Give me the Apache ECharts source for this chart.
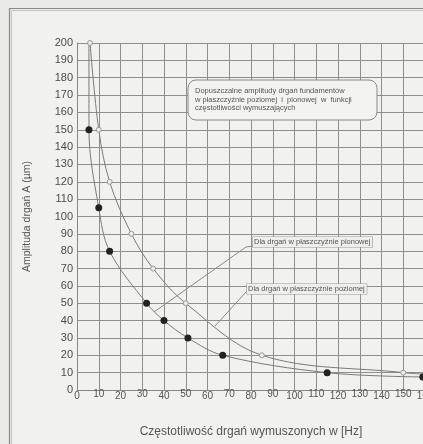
<!DOCTYPE html>
<html>
<head>
<meta charset="utf-8">
<script src="https://cdn.jsdelivr.net/npm/echarts@6.0.0/dist/echarts.min.js"></script>
<style>
  html, body { margin: 0; padding: 0; background: #eaeae8; }
  #chart { width: 423px; height: 444px; }
</style>
</head>
<body>
<div id="chart"></div>
<script>
// amplitudy dopuszczalne - drgania pionowe (kropki pełne)
const pionX = [5.5, 5.5, 10, 15, 32, 40, 51, 67, 115, 159];
const pionY = [200, 150, 105, 80, 50, 40, 30, 20, 10, 7.5];
// drgania poziome (kółka puste)
const pozX = [6, 10, 15, 25, 35, 50, 85, 150, 162];
const pozY = [200, 150, 120, 90, 70, 50, 20, 10, 9];

const xTitle = 'Częstotliwość drgań wymuszonych w [Hz]';
const yTitle = 'Amplituda drgań A (µm)';
const noteLines = [
  'Dopuszczalne amplitudy drgań fundamentów',
  'w płaszczyźnie poziomej  i  pionowej  w  funkcji',
  'częstotliwości wymuszających'
];
const labelPion = 'Dla drgań w płaszczyźnie pionowej';
const labelPoz = 'Dla drgań w płaszczyźnie poziomej';

const font = 'Liberation Sans';

const pionData = pionX.map((x, i) =>
  i === 0 ? { value: [x, pionY[i]], symbol: 'none' } : [x, pionY[i]]);
const pozData = pozX.map((x, i) =>
  i === pozX.length - 1 ? { value: [x, pozY[i]], symbol: 'none' } : [x, pozY[i]]);

const chart = echarts.init(document.getElementById('chart'));

const option = {
  backgroundColor: '#eaeae8',
  animation: false,
  grid: {
    left: 77, top: 43, width: 348, height: 347,
    containLabel: false,
    outerBoundsMode: 'none'
  },
  xAxis: {
    type: 'value',
    min: 0, max: 160, interval: 10,
    name: xTitle,
    nameLocation: 'middle',
    nameGap: 36,
    nameTextStyle: { fontFamily: font, fontSize: 12, color: '#555' },
    axisLine: { show: true, lineStyle: { color: '#888' } },
    axisTick: { show: false },
    axisLabel: {
      margin: -1,
      hideOverlap: false,
      formatter: v => (v / 10) % 2 === 1 ? '{up|' + v + '}' : '{dn|' + v + '}',
      rich: {
        up: { fontFamily: font, fontSize: 10, color: '#555', lineHeight: 11 },
        dn: { fontFamily: font, fontSize: 10, color: '#555', lineHeight: 11, padding: [4, 0, 0, 0] }
      }
    },
    splitLine: { show: true, lineStyle: { color: '#8e8e8e', width: 1 } }
  },
  yAxis: {
    type: 'value',
    min: 0, max: 200, interval: 10,
    name: yTitle,
    nameLocation: 'middle',
    nameGap: 44,
    nameTextStyle: { fontFamily: font, fontSize: 10.5, color: '#555' },
    axisLine: { show: true, lineStyle: { color: '#888' } },
    axisTick: { show: false },
    axisLabel: { margin: 4, fontFamily: font, fontSize: 11, color: '#4a4a4a' },
    splitLine: { show: true, lineStyle: { color: '#8e8e8e', width: 1 } }
  },
  series: [
    {
      name: 'pionowe',
      type: 'line',
      smooth: 0.35,
      data: pionData,
      symbol: 'circle',
      symbolSize: 7,
      itemStyle: { color: '#222' },
      lineStyle: { color: '#7a7a7a', width: 1 },
      z: 3
    },
    {
      name: 'poziome',
      type: 'line',
      smooth: 0.35,
      data: pozData,
      symbol: 'circle',
      symbolSize: 5,
      itemStyle: { color: '#ececea', borderColor: '#999', borderWidth: 1 },
      lineStyle: { color: '#7a7a7a', width: 1 },
      z: 3
    }
  ],
  graphic: [
    // ramka rysunku
    { type: 'rect', shape: { x: 9.5, y: 8.5, width: 500, height: 500 },
      style: { fill: 'none', stroke: '#8a8a8a', lineWidth: 1.2 }, z: 0 },
    { type: 'rect', shape: { x: 11.5, y: 10.5, width: 500, height: 500 },
      style: { fill: '#f1f1ef', stroke: '#c4c4c4', lineWidth: 1 }, z: -1 },
    // opis w ramce
    { type: 'rect', shape: { x: 188, y: 80, width: 189, height: 40, r: 8 },
      style: { fill: '#f3f3f1', stroke: '#8a8a8a', lineWidth: 1 }, z: 10 },
    { type: 'text', x: 195, y: 87, z: 11,
      style: { text: noteLines.join('\n'), font: '7.5px "Liberation Sans"',
               fill: '#555', lineHeight: 8.5 } },
    // odnośniki
    { type: 'polyline', z: 10,
      shape: { points: [[154, 312], [246, 247], [253, 246]] },
      style: { stroke: '#888', lineWidth: 1, fill: 'none' } },
    { type: 'polyline', z: 10,
      shape: { points: [[215, 326], [246, 292], [248, 291]] },
      style: { stroke: '#888', lineWidth: 1, fill: 'none' } },
    { type: 'text', x: 253, y: 237, z: 11,
      style: { text: labelPion, font: '7.5px "Liberation Sans"', fill: '#555',
               backgroundColor: '#eeeeec', borderColor: '#999', borderWidth: 0.6,
               padding: [1, 2, 1, 1] } },
    { type: 'text', x: 247, y: 284, z: 11,
      style: { text: labelPoz, font: '7.5px "Liberation Sans"', fill: '#555',
               backgroundColor: '#eeeeec', borderColor: '#999', borderWidth: 0.6,
               padding: [1, 2, 1, 1] } }
  ]
};

chart.setOption(option);
window.addEventListener('resize', () => chart.resize());
</script>
</body>
</html>
